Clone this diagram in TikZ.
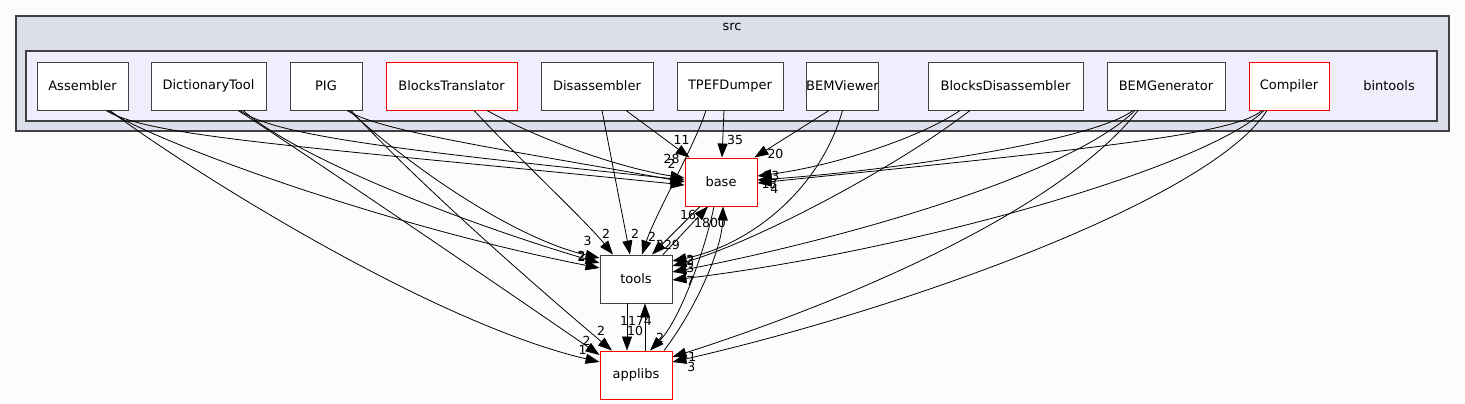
\documentclass[tikz,border=0pt]{standalone}
\usepackage{fontspec}
\setmainfont{DejaVu Sans}
\usetikzlibrary{arrows.meta}

\definecolor{pagebg}{RGB}{251,252,251}
\definecolor{srcfill}{RGB}{221,223,235}
\definecolor{binfill}{RGB}{238,238,252}
\definecolor{rim}{RGB}{64,64,64}

\begin{document}
\begin{tikzpicture}[x=1pt, y=-1pt, line width=0.9pt,
                    dirbox/.style={draw=rim, fill=white, minimum height=48pt, inner sep=0pt,
                                   font=\fontsize{13}{15}\selectfont},
                    hotbox/.style={dirbox, draw=red},
                    cluster/.style={draw=rim, line width=1.1pt, inner sep=0pt},
                    lbl/.style={inner sep=0pt, font=\fontsize{12.5}{14}\selectfont},
                    every edge/.style={draw, line width=0.8pt}, >={Triangle[length=14pt,width=10pt]}]

\fill[pagebg] (0,0) rectangle (1465,404);

% folders
\node[cluster, fill=srcfill, minimum width=1433pt, minimum height=115pt] (src) at (732.5,73.5) {};
\node[lbl, font=\fontsize{13}{15}\selectfont] (srcname) at (732,27) {src};
\node[cluster, fill=binfill, minimum width=1411pt, minimum height=70pt] (bintools) at (731.5,86) {};
\node[lbl, font=\fontsize{13}{15}\selectfont] (binname) at (1389,86) {bintools};

\node[dirbox, minimum width=91pt] (Assembler) at (82.5,86) {Assembler};
\node[dirbox, minimum width=115pt] (DictionaryTool) at (208.5,86) {DictionaryTool};
\node[dirbox, minimum width=72pt] (PIG) at (326,86) {PIG};
\node[hotbox, minimum width=131pt] (BlocksTranslator) at (451.5,86) {BlocksTranslator};
\node[dirbox, minimum width=112pt] (Disassembler) at (597,86) {Disassembler};
\node[dirbox, minimum width=106pt] (TPEFDumper) at (730,86) {TPEFDumper};
\node[dirbox, minimum width=71pt] (BEMViewer) at (842.5,86) {BEMViewer};
\node[dirbox, minimum width=155pt] (BlocksDisassembler) at (1005.5,86) {BlocksDisassembler};
\node[dirbox, minimum width=118pt] (BEMGenerator) at (1166,86) {BEMGenerator};
\node[hotbox, minimum width=80pt] (Compiler) at (1289,86) {Compiler};

\node[hotbox, minimum width=72pt] (base) at (721,182) {base};
\node[dirbox, minimum width=72pt] (tools) at (636,279) {tools};
\node[hotbox, minimum width=72pt] (applibs) at (636,375) {applibs};

% bintools -> base
\path[->]
([xshift=23.5pt]Assembler.south) edge [controls={(150,137) and (300,146)}] node[lbl, at end, xshift=-13pt, yshift=21pt] {2} ([yshift=-3pt]base.west)
([xshift=31.5pt]DictionaryTool.south) edge [controls={(275,137) and (420,152)}] ([yshift=2pt]base.west)
([xshift=21pt]PIG.south) edge [controls={(380,132) and (520,152)}] node[lbl, at end, xshift=-13pt, yshift=23pt] {28} (base.west)
([xshift=35.5pt]BlocksTranslator.south) edge [controls={(540,140) and (620,168)}] ([yshift=4pt]base.west)
([xshift=29pt]Disassembler.south) edge node[lbl, at end, xshift=-8pt, yshift=18pt] {11} ([xshift=5pt]base.north west)
([xshift=-6pt]TPEFDumper.south) edge node[lbl, at end, xshift=13pt, yshift=18pt] {35} ([xshift=1pt]base.north)
([xshift=-13.5pt]BEMViewer.south) edge node[lbl, at end, xshift=21pt, yshift=4pt] {20} ([xshift=-3pt]base.north east)
([xshift=-45.5pt]BlocksDisassembler.south) edge [controls={(925,135) and (840,165)}] node[lbl, at end, xshift=14pt, yshift=0pt] {23} ([yshift=6pt]base.east)
([xshift=-33pt]BEMGenerator.south) edge [controls={(1095,140) and (900,170)}] node[lbl, at end, xshift=12pt, yshift=-4pt] {13} ([yshift=2pt]base.east)
([xshift=-27pt]Compiler.south) edge [controls={(1235,135) and (1080,150)}] node[lbl, at end, xshift=17pt, yshift=-6pt] {4} ([yshift=-1pt]base.east);

% bintools -> tools
\path[->]
([xshift=25.5pt]Assembler.south) edge [controls={(150,140) and (380,225)}] node[lbl, at end, xshift=-18pt, yshift=11pt] {2} ([yshift=11pt]tools.west)
([xshift=34.5pt]DictionaryTool.south) edge [controls={(300,160) and (470,225)}] node[lbl, at end, xshift=-18pt, yshift=7pt] {2} ([yshift=16pt]tools.west)
([xshift=23pt]PIG.south) edge [controls={(420,175) and (520,240)}] node[lbl, at end, xshift=-12pt, yshift=17pt] {3} ([yshift=21pt]tools.west)
([xshift=22.5pt]BlocksTranslator.south) edge [controls={(520,160) and (585,220)}] node[lbl, at end, xshift=-7pt, yshift=21pt] {2} ([xshift=-23pt]tools.north)
([xshift=5pt]Disassembler.south) edge node[lbl, at end, xshift=5pt, yshift=21pt] {2} ([xshift=-6pt]tools.north)
([xshift=-24pt]TPEFDumper.south) edge [controls={(695,145) and (655,215)}] node[lbl, at end, xshift=10pt, yshift=18pt] {2} ([xshift=6pt]tools.north)
(BEMViewer.south) edge [controls={(820,190) and (750,245)}] node[lbl, at end, xshift=18pt, yshift=1pt] {2} ([yshift=18pt]tools.east)
([xshift=-35.5pt]BlocksDisassembler.south) edge [controls={(900,165) and (760,240)}] node[lbl, at end, xshift=18pt, yshift=5pt] {3} ([yshift=13pt]tools.east)
([xshift=-31pt]BEMGenerator.south) edge [controls={(1070,175) and (840,240)}] node[lbl, at end, xshift=18pt, yshift=4pt] {3} ([yshift=7pt]tools.east)
([xshift=-25pt]Compiler.south) edge [controls={(1210,165) and (920,250)}] node[lbl, at end, xshift=18pt, yshift=-1pt] {7} ([yshift=-1pt]tools.east);

% bintools -> applibs
\path[->]
([xshift=27.5pt]Assembler.south) edge [controls={(160,150) and (420,320)}] node[lbl, at end, xshift=-17pt, yshift=12pt] {1} ([yshift=13pt]applibs.west)
([xshift=29.5pt]DictionaryTool.south) edge [controls={(300,150) and (520,300)}] node[lbl, at end, xshift=-13pt, yshift=14pt] {2} ([yshift=20pt]applibs.west)
([xshift=25pt]PIG.south) edge [controls={(420,185) and (540,290)}] node[lbl, at end, xshift=-11pt, yshift=20pt] {2} ([xshift=-24pt]applibs.north)
([xshift=-28pt]BEMGenerator.south) edge [controls={(1060,210) and (850,300)}] node[lbl, at end, xshift=20pt, yshift=0pt] {1} ([yshift=18pt]applibs.east)
([xshift=-22pt]Compiler.south) edge [controls={(1210,200) and (900,310)}] node[lbl, at end, xshift=19pt, yshift=-5pt] {3} ([yshift=13pt]applibs.east);

% base, tools, applibs
\path[->]
([xshift=-21pt]base.south) edge node[lbl, at end, xshift=16pt, yshift=10pt] {229} ([xshift=16pt]tools.north)
([xshift=27pt]tools.north) edge node[lbl, at end, xshift=-20pt, yshift=-8pt] {16} ([xshift=-13pt]base.south)
([xshift=28pt]applibs.north) edge [controls={(695,310) and (722,250)}] node[lbl, at end, xshift=-13pt, yshift=-16pt] {1800} ([xshift=2pt]base.south)
([xshift=-7pt]base.south) edge [controls={(705,250) and (680,320)}] node[lbl, at end, xshift=10pt, yshift=13pt] {2} ([xshift=14pt]applibs.north)
([xshift=-9pt]tools.south) edge node[lbl, at end, xshift=8pt, yshift=20pt] {10} ([xshift=-9pt]applibs.north)
([xshift=9pt]applibs.north) edge node[lbl, at end, xshift=-9pt, yshift=-17pt] {1174} ([xshift=9pt]tools.south);
\end{tikzpicture}
\end{document}
